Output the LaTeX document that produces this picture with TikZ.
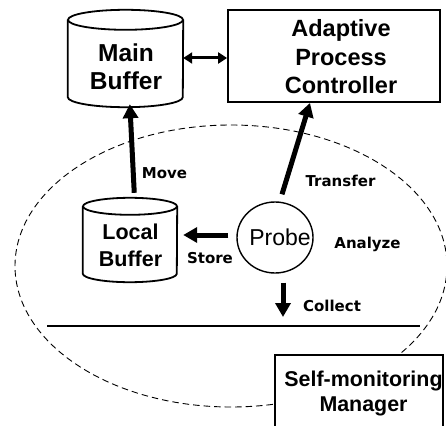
\documentclass[tikz,border=0pt]{standalone}
\usepackage{fontspec}
\setmainfont{Liberation Sans}
\newfontfamily\labelfont{DejaVu Sans}
\usepackage{tikz}
\usetikzlibrary{arrows.meta,shapes.geometric}
\tikzstyle{buffer}=[rectangle,inner sep=0pt]
\tikzstyle{outline}=[draw,line width=1.8pt]
\tikzstyle{block}=[rectangle,draw,line width=1.8pt,fill=white,inner sep=0pt]
\tikzstyle{caption}=[align=center,inner sep=0pt,font=\bfseries]
\tikzstyle{flow} = [draw,line width=5pt,-{Triangle[length=14pt,width=15pt]}]
\tikzstyle{swap} = [draw,line width=3pt,{Triangle[length=9pt,width=11pt]}-{Triangle[length=9pt,width=11pt]}]
\tikzstyle{label} = [font=\labelfont\fontsize{15}{17}\selectfont\bfseries]

\begin{document}
\begin{tikzpicture}[x=1pt,y=-1pt]
				\useasboundingbox (0,0) rectangle (446,425);
				\clip (0,0) rectangle (446,425);

				% the monitored region first, so the manager box covers it
				\draw[dashed,dash pattern=on 6.5pt off 4pt,line width=0.9pt] (231,266) ellipse [x radius=216,y radius=141];
				\draw[line width=2pt] (47,326) -- (420,326);

				% buffers, controller, probe and manager
				\node[buffer,minimum width=115pt,minimum height=97pt] (mbuf) at (125.5,58.5) {};
				\node[buffer,minimum width=94pt,minimum height=84pt] (lbuf) at (130,240) {};
				\node[block,minimum width=212pt,minimum height=92pt] (apc) at (334,56) {};
				\node[ellipse,draw,line width=1.4pt,minimum width=76pt,minimum height=71pt,inner sep=0pt] (probe) at (275,237.5) {};
				\node[block,minimum width=168pt,minimum height=100pt] (smm) at (359,405) {};

				% the two buffers are drums
				\foreach \n/\rx/\ry in {mbuf/57.5pt/10pt, lbuf/47pt/8.5pt}
				{
					\path[outline] ([yshift=-\ry]\n.north west) -- ([yshift=\ry]\n.south west)
						arc[start angle=180,end angle=360,x radius=\rx,y radius=\ry] -- ([yshift=-\ry]\n.north east);
					\path[outline] ([yshift=-\ry]\n.north) ellipse [x radius=\rx,y radius=\ry];
				}

				% their texts
				\node[caption,font=\fontsize{24.5}{28}\selectfont\bfseries] (mbuf text) at (126,67) {Main\\Buffer};
				\node[caption,font=\fontsize{21.5}{27}\selectfont\bfseries] (lbuf text) at (130.5,245.5) {Local\\Buffer};
				\node[caption,font=\fontsize{23.5}{28.5}\selectfont\bfseries] (apc text) at (341,57) {Adaptive\\Process\\Controller};
				\node[caption,font=\fontsize{23}{28}\selectfont] (probe text) at (280,237.5) {Probe};
				\node[caption,font=\fontsize{21.4}{25}\selectfont\bfseries] (smm text) at (363.5,394) {Self-monitoring\\Manager};
				\coordinate (collect) at (283,317);

				% Connect them and draw the action names
				\path[swap] ([yshift=-2pt]apc.west -| mbuf.east) -- ([yshift=-2pt]apc.west);
				\path[flow,shorten <=5pt,shorten >=-3pt] ([xshift=4.5pt]lbuf.north) -- ([xshift=4.5pt]mbuf.south);
				\path[flow] ([xshift=7pt,yshift=7pt]probe.north) -- ([xshift=-24pt]apc.south);
				\path[flow,shorten <=8pt,shorten >=6pt] ([yshift=2.5pt]probe.west) -- ([yshift=2.5pt]probe.west -| lbuf.east);
				\path[flow,shorten <=9pt] (probe.south -| collect) -- (collect);

				\foreach \pos/\name/\act in {{(164.5,173.5)/move/Move}, {(340.5,180.5)/transfer/Transfer}, {(210,258.5)/store/Store},
										{(367.5,244.5)/analyze/Analyze}, {(332,305.5)/collectlbl/Collect}}
				\node[label] (\name) at \pos {\act};

			\end{tikzpicture}
\end{document}
